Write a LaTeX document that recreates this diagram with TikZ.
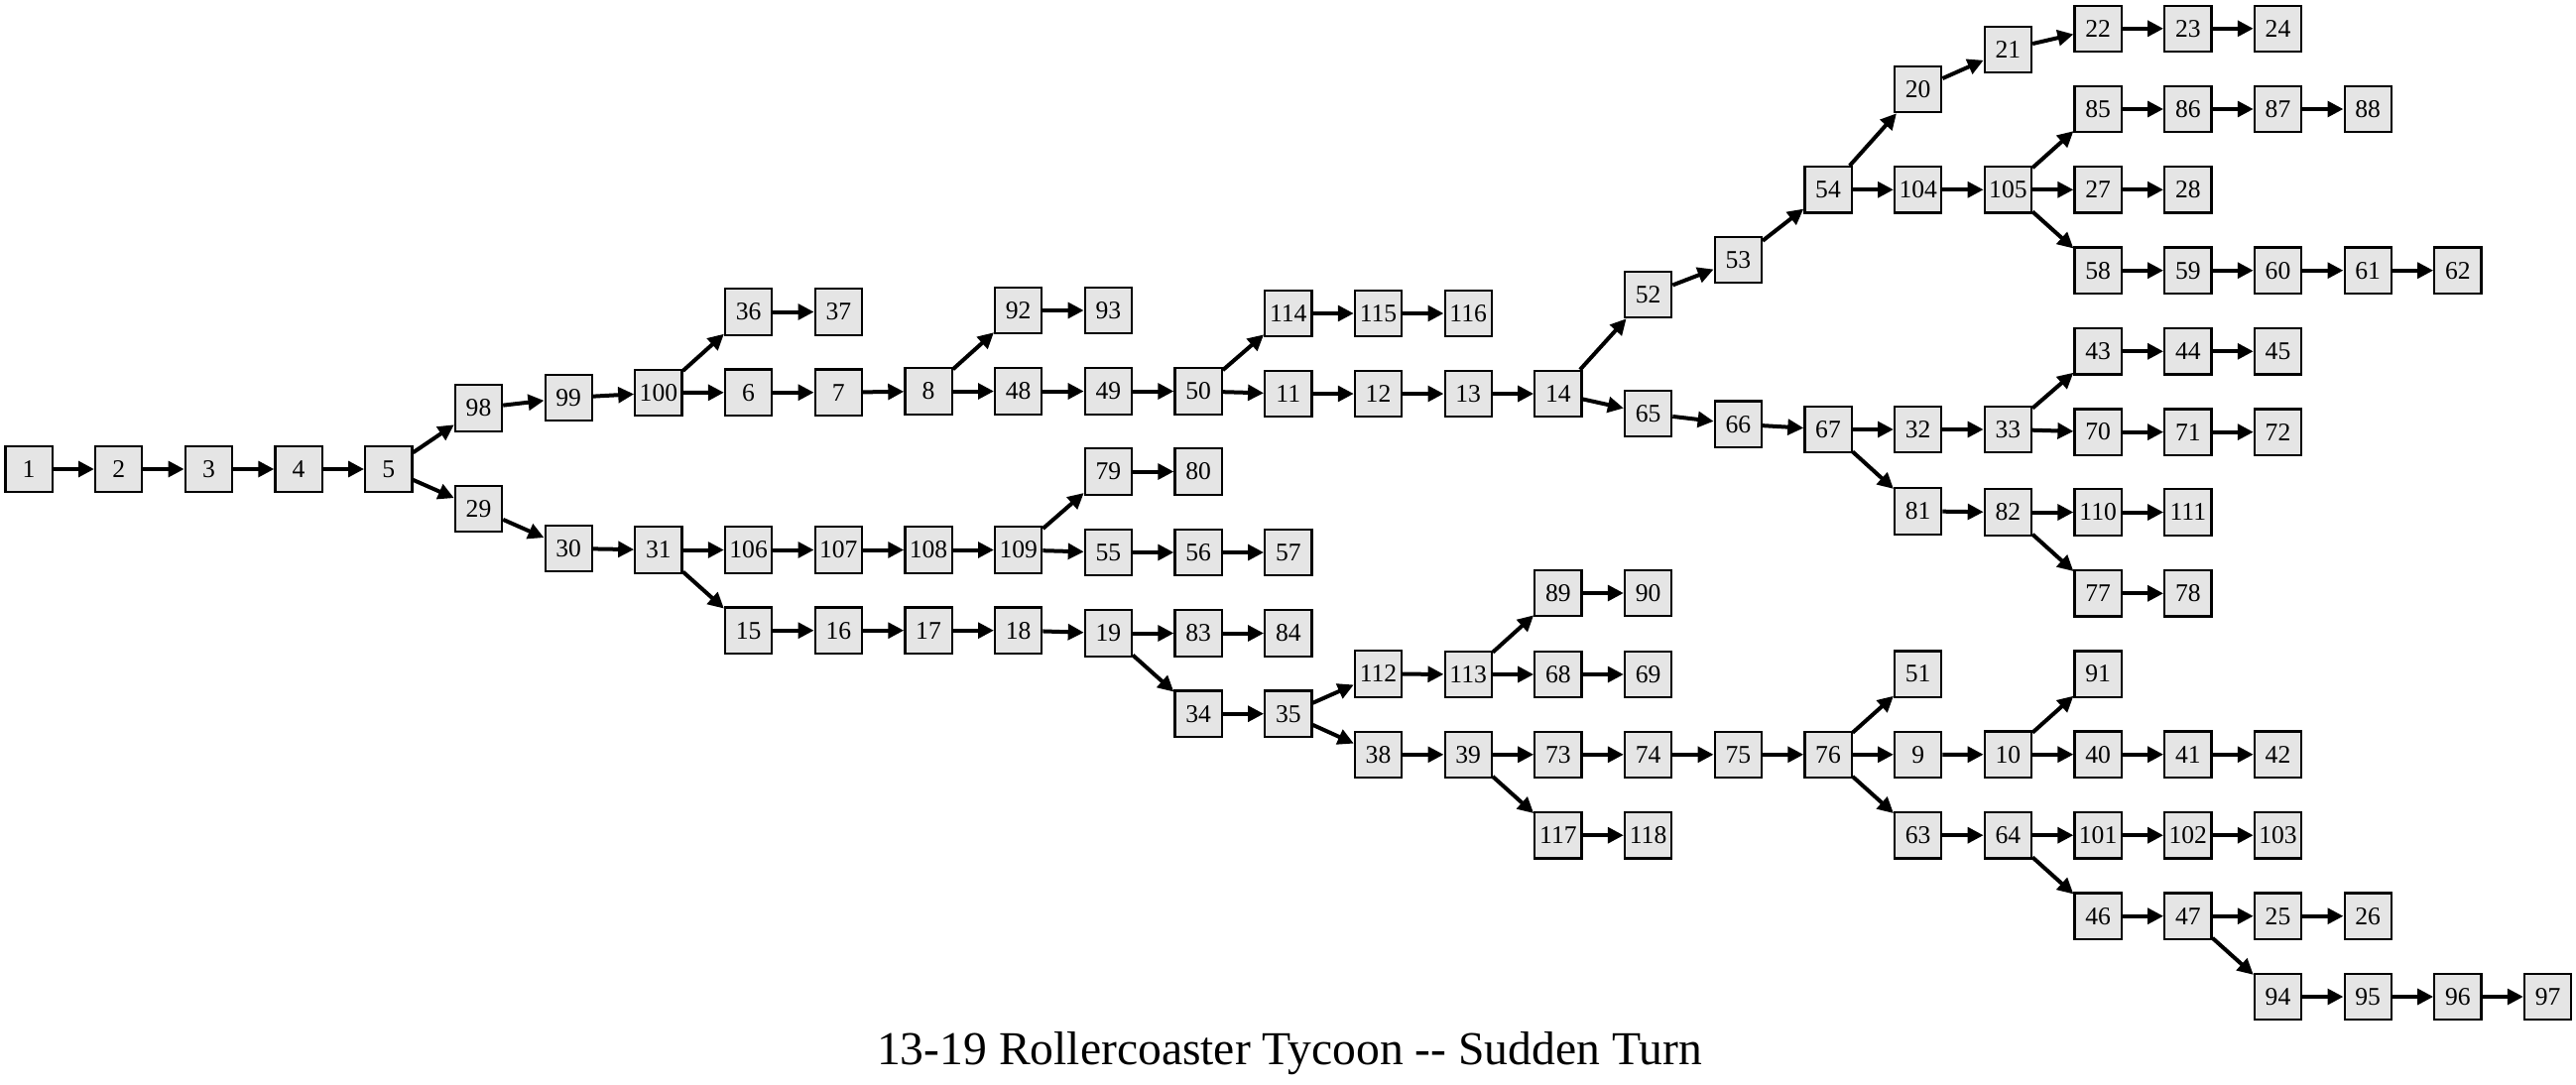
\documentclass[tikz,border=0pt]{standalone}
\usepackage{fontspec}
\setmainfont{Liberation Serif}
\usetikzlibrary{arrows.meta}
\definecolor{boxfill}{RGB}{229,229,229}
\tikzset{
  bx/.style={draw=black, line width=1.1pt, fill=boxfill, rectangle,
    minimum width=23.6pt, minimum height=23.2pt, inner sep=0pt,
    font=\fontsize{12.8}{14}\selectfont},
  edge/.style={line width=2pt, -{Triangle[length=8pt,width=7.8pt]}},
  ttl/.style={font=\fontsize{23.8}{28}\selectfont, anchor=base, inner sep=0pt}
}
\newcommand{\nd}[3]{\node[bx] (n#1) at ({29+90.7*#2},#3) {#1};}
\begin{document}
\begin{tikzpicture}[x=0.5pt,y=-0.5pt]
\useasboundingbox (0,0) rectangle (2597,1093);
% column 0-4
\nd{1}{0}{473}
\nd{2}{1}{473}
\nd{3}{2}{473}
\nd{4}{3}{473}
\nd{5}{4}{473}
% col 5
\nd{98}{5}{411.5}
\nd{29}{5}{513}
% col 6
\nd{99}{6}{401}
\nd{30}{6}{553}
% col 7
\nd{100}{7}{396}
\nd{31}{7}{554.5}
% col 8
\nd{36}{8}{314.5}
\nd{6}{8}{395.7}
\nd{106}{8}{554.5}
\nd{15}{8}{635.7}
% col 9
\nd{37}{9}{314.5}
\nd{7}{9}{395.7}
\nd{107}{9}{554.5}
\nd{16}{9}{635.7}
% col 10
\nd{8}{10}{394.5}
\nd{108}{10}{554.5}
\nd{17}{10}{635.7}
% col 11
\nd{92}{11}{313}
\nd{48}{11}{394.5}
\nd{109}{11}{554.5}
\nd{18}{11}{635.7}
% col 12
\nd{93}{12}{313}
\nd{49}{12}{394.5}
\nd{79}{12}{475.5}
\nd{55}{12}{557}
\nd{19}{12}{638.5}
% col 13
\nd{50}{13}{394.5}
\nd{80}{13}{475.5}
\nd{56}{13}{557}
\nd{83}{13}{638.5}
\nd{34}{13}{719.7}
% col 14
\nd{114}{14}{316}
\nd{11}{14}{397}
\nd{57}{14}{557}
\nd{84}{14}{638.5}
\nd{35}{14}{719.7}
% col 15
\nd{115}{15}{316}
\nd{12}{15}{397}
\nd{112}{15}{679.5}
\nd{38}{15}{760.8}
% col 16
\nd{116}{16}{316}
\nd{13}{16}{397}
\nd{113}{16}{680}
\nd{39}{16}{760.8}
% col 17
\nd{14}{17}{397}
\nd{89}{17}{598}
\nd{68}{17}{680}
\nd{73}{17}{760.8}
\nd{117}{17}{842.2}
% col 18
\nd{52}{18}{297}
\nd{65}{18}{417}
\nd{90}{18}{598}
\nd{69}{18}{680}
\nd{74}{18}{760.8}
\nd{118}{18}{842.2}
% col 19
\nd{53}{19}{262}
\nd{66}{19}{427.7}
\nd{75}{19}{760.8}
% col 20
\nd{54}{20}{191.3}
\nd{67}{20}{433}
\nd{76}{20}{760.8}
% col 21
\nd{20}{21}{90}
\nd{104}{21}{191.3}
\nd{32}{21}{433}
\nd{81}{21}{515.4}
\nd{51}{21}{679.6}
\nd{9}{21}{760.8}
\nd{63}{21}{842.2}
% col 22
\nd{21}{22}{49.8}
\nd{105}{22}{191.3}
\nd{33}{22}{433}
\nd{82}{22}{516.5}
\nd{10}{22}{760.7}
\nd{64}{22}{842.2}
% col 23
\nd{22}{23}{28.8}
\nd{85}{23}{110}
\nd{27}{23}{191.3}
\nd{58}{23}{272.7}
\nd{43}{23}{354.3}
\nd{70}{23}{435.6}
\nd{110}{23}{516.5}
\nd{77}{23}{598.3}
\nd{91}{23}{679.6}
\nd{40}{23}{760.7}
\nd{101}{23}{842.2}
\nd{46}{23}{923.7}
% col 24
\nd{23}{24}{28.8}
\nd{86}{24}{110}
\nd{28}{24}{191.3}
\nd{59}{24}{272.7}
\nd{44}{24}{354.3}
\nd{71}{24}{435.6}
\nd{111}{24}{516.5}
\nd{78}{24}{598.3}
\nd{41}{24}{760.7}
\nd{102}{24}{842.2}
\nd{47}{24}{923.7}
% col 25
\nd{24}{25}{28.8}
\nd{87}{25}{110}
\nd{60}{25}{272.7}
\nd{45}{25}{354.3}
\nd{72}{25}{435.6}
\nd{42}{25}{760.7}
\nd{103}{25}{842.2}
\nd{25}{25}{923.7}
\nd{94}{25}{1005}
% col 26
\nd{88}{26}{110}
\nd{61}{26}{272.7}
\nd{26}{26}{923.7}
\nd{95}{26}{1005}
% col 27
\nd{62}{27}{272.7}
\nd{96}{27}{1005}
% col 28
\nd{97}{28}{1005}
% edges
\foreach \a/\b in {1/2, 2/3, 3/4, 4/5, 5/98, 5/29, 98/99, 99/100, 100/36, 100/6,
  36/37, 6/7, 7/8, 8/92, 8/48, 92/93, 48/49, 49/50, 50/114, 50/11, 114/115,
  115/116, 11/12, 12/13, 13/14, 14/52, 14/65, 52/53, 53/54, 54/20, 54/104,
  20/21, 21/22, 22/23, 23/24, 104/105, 105/85, 105/27, 105/58, 85/86, 86/87,
  87/88, 27/28, 58/59, 59/60, 60/61, 61/62, 65/66, 66/67, 67/32, 67/81,
  32/33, 33/43, 33/70, 43/44, 44/45, 70/71, 71/72, 81/82, 82/110, 82/77,
  110/111, 77/78, 29/30, 30/31, 31/106, 31/15, 106/107, 107/108, 108/109,
  109/79, 109/55, 79/80, 55/56, 56/57, 15/16, 16/17, 17/18, 18/19, 19/83,
  19/34, 83/84, 34/35, 35/112, 35/38, 112/113, 113/89, 113/68, 89/90, 68/69,
  38/39, 39/73, 39/117, 73/74, 74/75, 75/76, 76/51, 76/9, 76/63, 117/118,
  9/10, 10/91, 10/40, 40/41, 41/42, 63/64, 64/101, 64/46, 101/102, 102/103,
  46/47, 47/25, 47/94, 25/26, 94/95, 95/96, 96/97}
  \draw[edge] (n\a) -- (n\b);
\node[ttl] (title) at (1300,1073) {13-19 Rollercoaster Tycoon -{}- Sudden Turn};
\end{tikzpicture}
\end{document}
